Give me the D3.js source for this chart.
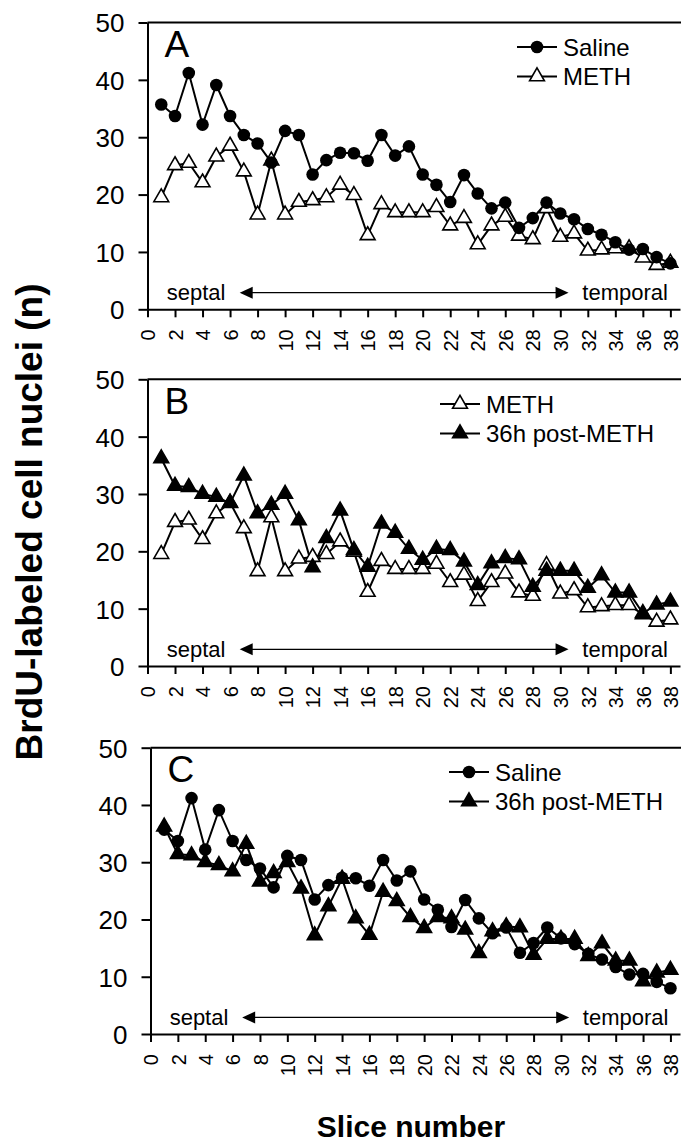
<!DOCTYPE html>
<html>
<head>
<meta charset="utf-8">
<script src="https://cdnjs.cloudflare.com/ajax/libs/d3/7.8.5/d3.min.js"></script>
<style>
  body { margin: 0; background: white; }
  svg text { font-family: "Liberation Sans", Arial, Helvetica, sans-serif; fill: black; }
</style>
</head>
<body></body>
<script>
// slice numbers 1..38
var slices = d3.range(1, 39);
var saline = [35.7, 33.7, 41.2, 32.2, 39.1, 33.7, 30.4, 28.9, 25.6, 31.1,
  30.4, 23.5, 26.0, 27.3, 27.2, 25.9, 30.4, 26.8, 28.4, 23.5,
  21.7, 18.7, 23.4, 20.2, 17.6, 18.6, 14.2, 15.9, 18.6, 16.7,
  15.7, 14.0, 13.0, 11.7, 10.4, 10.5, 9.1, 8.0];
var meth = [19.5, 25.1, 25.5, 22.1, 26.6, 28.5, 24.0, 16.5, 25.9, 16.5,
  18.7, 19.0, 19.5, 21.7, 19.9, 12.9, 18.3, 16.9, 16.9, 16.9,
  17.8, 14.6, 15.9, 11.3, 14.6, 16.1, 12.8, 12.2, 17.6, 12.6,
  13.2, 10.2, 10.4, 10.6, 10.6, 9.0, 7.7, 8.1];
var postMeth = [36.2, 31.4, 31.2, 30.0, 29.5, 28.4, 33.2, 26.6, 28.1, 30.0,
  25.4, 17.2, 22.3, 27.1, 20.2, 17.3, 24.8, 23.2, 20.4, 18.5,
  20.4, 20.2, 18.2, 14.1, 17.9, 18.8, 18.6, 13.8, 16.6, 16.6,
  16.6, 13.6, 15.8, 12.8, 12.8, 9.2, 10.7, 11.2];
var yTicks = [0, 10, 20, 30, 40, 50];
var xTicks = d3.range(0, 39, 2);
var panelLetters = ["A", "B", "C"];

var series = {
  saline: {name: "Saline", values: saline, marker: "circle"},
  meth: {name: "METH", values: meth, marker: "openTri"},
  post: {name: "36h post-METH", values: postMeth, marker: "filledTri"}
};

var panels = [
  {letter: panelLetters[0], left: 147.5, top: 22.5, bottom: 309.3, draw: ["meth", "saline"], legend: ["saline", "meth"], legX: 517, legY: 47},
  {letter: panelLetters[1], left: 147.5, top: 379.3, bottom: 666, draw: ["meth", "post"], legend: ["meth", "post"], legX: 440, legY: 404},
  {letter: panelLetters[2], left: 150.5, top: 747.7, bottom: 1034, draw: ["saline", "post"], legend: ["saline", "post"], legX: 449, legY: 772}
];

var W = 682, H = 1145;
var svg = d3.select("body").append("svg").attr("width", W).attr("height", H);

var triSym = d3.symbol().type(d3.symbolTriangle).size(95);

function drawMarker(sel, kind) {
  if (kind === "circle") {
    sel.append("circle").attr("r", 6.3).attr("fill", "black");
  } else {
    sel.append("path").attr("d", triSym)
      .attr("fill", kind === "filledTri" ? "black" : "white")
      .attr("stroke", "black").attr("stroke-width", 1.6);
  }
}

function drawPanel(p) {
  var step = (680 - p.left) / 38.7;
  var x = d3.scaleLinear().domain([0, 38.7]).range([p.left, 680]);
  var y = d3.scaleLinear().domain([0, 50]).range([p.bottom, p.top]);
  var g = svg.append("g");

  // top frame line
  g.append("line").attr("x1", x(0)).attr("x2", 681).attr("y1", y(50)).attr("y2", y(50))
    .attr("stroke", "black").attr("stroke-width", 2);

  var yAxis = g.append("g").attr("transform", "translate(" + x(0) + ",0)")
    .call(d3.axisLeft(y).tickValues(yTicks).tickSize(9).tickSizeOuter(0).tickPadding(14));
  yAxis.selectAll("path, line").attr("stroke", "black").attr("stroke-width", 2);
  yAxis.selectAll("text").style("font-size", "26px").attr("dy", "0.36em");

  var xAxis = g.append("g").attr("transform", "translate(0," + y(0) + ")")
    .call(d3.axisBottom(x).tickValues(xTicks).tickSize(8).tickSizeOuter(0));
  xAxis.selectAll("path, line").attr("stroke", "black").attr("stroke-width", 2);
  xAxis.selectAll("text").style("font-size", "20px")
    .attr("transform", "rotate(-90)").attr("y", 0).attr("x", -20).attr("dy", "0.36em")
    .style("text-anchor", "end");

  // panel letter
  g.append("text").attr("x", x(0) + 17).attr("y", y(50) + 34.5)
    .style("font-size", "37px").text(p.letter);

  // septal / temporal arrow
  var ay = y(2.9);
  g.append("text").attr("x", x(1.4)).attr("y", ay).attr("dy", "0.33em")
    .style("font-size", "22px").text("septal");
  g.append("text").attr("x", x(31.6)).attr("y", ay).attr("dy", "0.33em")
    .style("font-size", "22px").text("temporal");
  var x1 = x(6.7), x2 = x(30.6);
  g.append("line").attr("x1", x1 + 10).attr("x2", x2 - 10).attr("y1", ay).attr("y2", ay)
    .attr("stroke", "black").attr("stroke-width", 1.3);
  g.append("path").attr("d", "M" + x1 + "," + ay + "l13,-6l0,12z").attr("fill", "black");
  g.append("path").attr("d", "M" + x2 + "," + ay + "l-13,-6l0,12z").attr("fill", "black");

  var line = d3.line().x(function (d, i) { return x(slices[i]); }).y(function (d) { return y(d); });

  p.draw.forEach(function (key) {
    var s = series[key];
    g.append("path").datum(s.values).attr("d", line)
      .attr("fill", "none").attr("stroke", "black").attr("stroke-width", 2);
  });
  p.draw.forEach(function (key) {
    var s = series[key];
    var m = g.selectAll(".m-" + key).data(s.values).enter().append("g")
      .attr("class", "m-" + key)
      .attr("transform", function (d, i) { return "translate(" + x(slices[i]) + "," + y(d) + ")"; });
    drawMarker(m, s.marker);
  });

  // legend
  p.legend.forEach(function (key, i) {
    var s = series[key];
    var ly = p.legY + i * 29.5;
    var lg = g.append("g").attr("transform", "translate(" + p.legX + "," + ly + ")");
    lg.append("line").attr("x1", 0).attr("x2", 40).attr("stroke", "black").attr("stroke-width", 2);
    var mk = lg.append("g").attr("transform", "translate(20,0)");
    drawMarker(mk, s.marker);
    lg.append("text").attr("x", 46).attr("dy", "0.36em").style("font-size", "24px").text(s.name);
  });
}

panels.forEach(drawPanel);

svg.append("text").attr("transform", "translate(29,522) rotate(-90)")
  .style("text-anchor", "middle").attr("dy", "0.36em")
  .style("font-size", "37px").style("font-weight", "bold")
  .text("BrdU-labeled cell nuclei (n)");

svg.append("text").attr("x", 411).attr("y", 1137)
  .style("text-anchor", "middle").style("font-size", "30px").style("font-weight", "bold")
  .text("Slice number");
</script>
</html>
